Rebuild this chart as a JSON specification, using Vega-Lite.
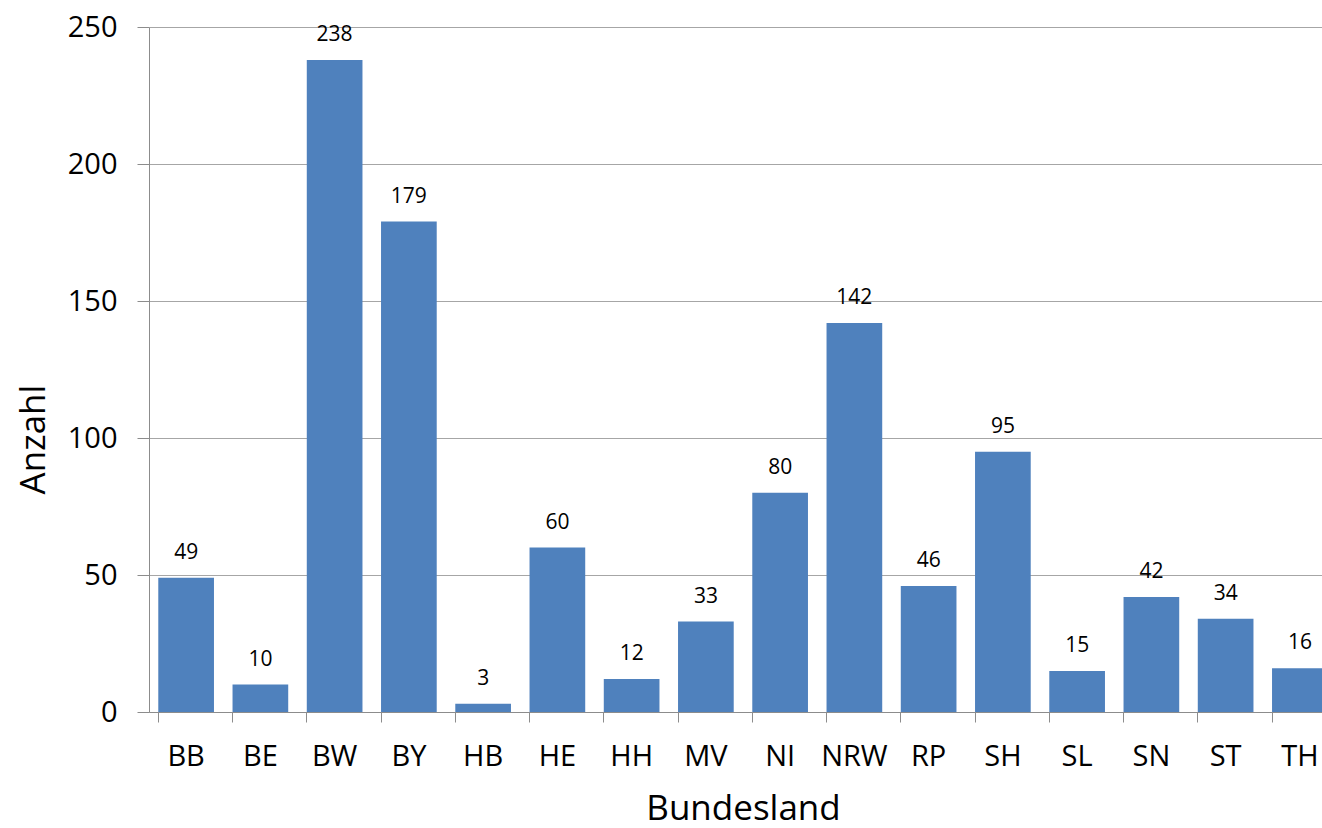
{
  "$schema": "https://vega.github.io/schema/vega-lite/v6.json",
  "width": 1188,
  "height": 685,
  "padding": {"left": 16, "top": 13, "right": 0, "bottom": 0},
  "background": "white",
  "config": {
    "view": {"stroke": null},
    "font": "Open Sans"
  },
  "data": {
    "values": [
      {"land": "BB", "anzahl": 49},
      {"land": "BE", "anzahl": 10},
      {"land": "BW", "anzahl": 238},
      {"land": "BY", "anzahl": 179},
      {"land": "HB", "anzahl": 3},
      {"land": "HE", "anzahl": 60},
      {"land": "HH", "anzahl": 12},
      {"land": "MV", "anzahl": 33},
      {"land": "NI", "anzahl": 80},
      {"land": "NRW", "anzahl": 142},
      {"land": "RP", "anzahl": 46},
      {"land": "SH", "anzahl": 95},
      {"land": "SL", "anzahl": 15},
      {"land": "SN", "anzahl": 42},
      {"land": "ST", "anzahl": 34},
      {"land": "TH", "anzahl": 16}
    ]
  },
  "encoding": {
    "x": {
      "field": "land",
      "type": "nominal",
      "sort": null,
      "scale": {"paddingInner": 0.25, "paddingOuter": 0.125},
      "axis": {
        "title": "Bundesland",
        "titleFont": "Open Sans",
        "titleFontSize": 35,
        "titleFontWeight": "normal",
        "titleColor": "#000000",
        "titlePadding": 20,
        "labelAngle": 0,
        "labelFontSize": 29,
        "labelColor": "#000000",
        "labelPadding": 20,
        "bandPosition": 0,
        "tickColor": "#8c8c8c",
        "tickSize": 10,
        "domainColor": "#8c8c8c",
        "grid": false
      }
    },
    "y": {
      "field": "anzahl",
      "type": "quantitative",
      "scale": {"domain": [0, 250], "nice": false},
      "axis": {
        "title": "Anzahl",
        "titleFont": "Open Sans",
        "titleFontSize": 35,
        "titleFontWeight": "normal",
        "titleColor": "#000000",
        "titlePadding": 16,
        "titleY": 412,
        "values": [0, 50, 100, 150, 200, 250],
        "labelFontSize": 29,
        "labelColor": "#000000",
        "labelPadding": 20,
        "tickColor": "#8c8c8c",
        "tickSize": 12,
        "domainColor": "#8c8c8c",
        "grid": true,
        "gridColor": "#a6a6a6",
        "gridWidth": 1
      }
    }
  },
  "layer": [
    {"mark": {"type": "bar", "color": "#4F81BD"}},
    {
      "mark": {"type": "text", "dy": -25, "fontSize": 21, "color": "#000000", "font": "Open Sans"},
      "encoding": {"text": {"field": "anzahl", "type": "quantitative"}}
    }
  ]
}
